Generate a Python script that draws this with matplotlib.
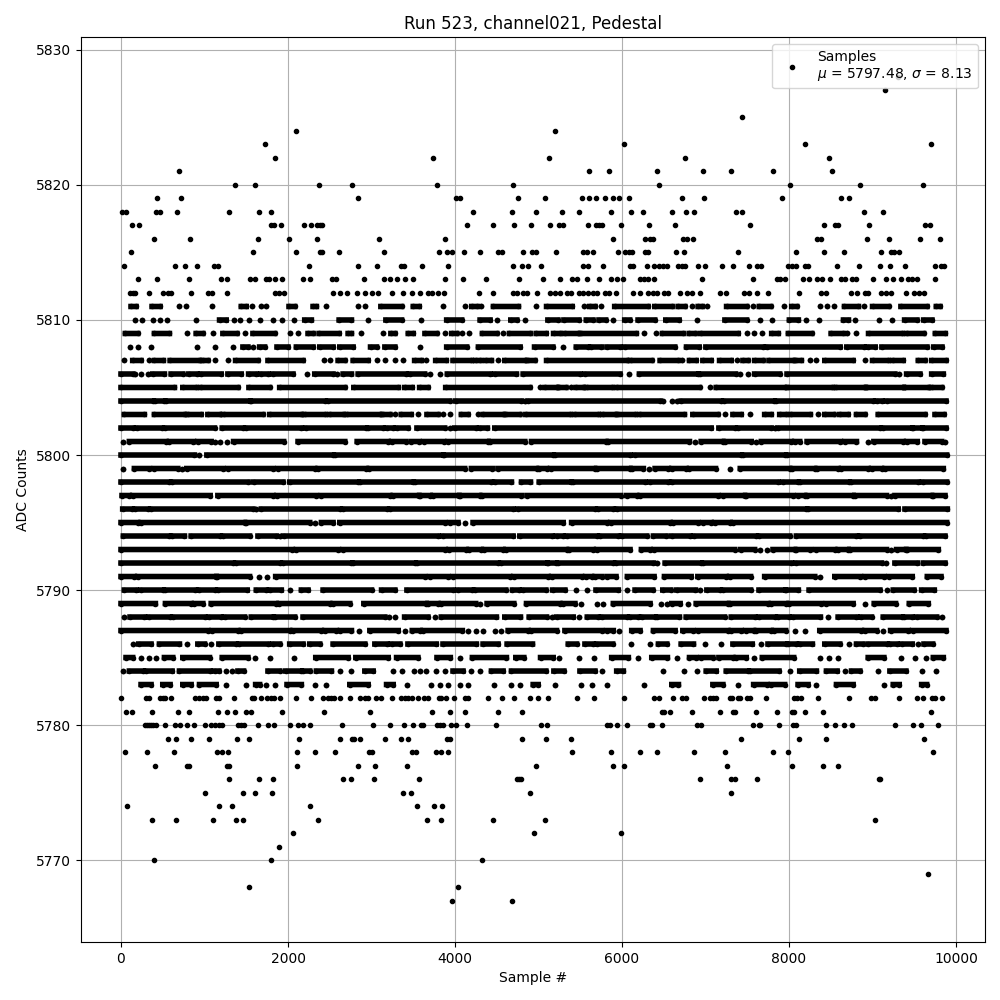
import matplotlib
matplotlib.use("Agg")
import matplotlib.pyplot as plt
import numpy as np

# single samples, x = sample number, one list per ADC level
s5828 = [9300]
s5827 = [9144]
s5825 = [7440]
s5824 = [2096, 5196]
s5823 = [1724, 6024, 8196, 9696]
s5822 = [1844, 3740, 5124, 6756, 8484]
s5821 = [692, 5604, 5844, 6420, 6972, 7308, 7812, 8520]
s5820 = [1364, 1604, 2372, 2768, 3788, 4700, 6444, 8016, 8856, 9600]
s5819 = [428, 716, 2840, 4016, 4064, 4760, 5076, 5520, 5604, 5688, 5796, 5892, 5964, 6084, 6720, 6984, 7920, 8628, 8724]
s5818 = [8, 60, 416, 464, 668, 1292, 1652, 1796, 4220, 4688, 4968, 5280, 5484, 5868, 6108, 6252, 6600, 6768, 6864, 7368,
         7440, 8892, 9120]
s5817 = [128, 212, 1800, 1832, 1916, 2192, 2276, 2348, 2384, 2408, 4148, 4460, 4712, 4912, 5136, 5244, 5292, 5592, 5688,
         5724, 5760, 5988, 6324, 6636, 7536, 8424, 8556, 8592, 8952, 9632, 9684]
s5816 = [392, 824, 1640, 2012, 2348, 3092, 3884, 5892, 6276, 6336, 6372, 6732, 6780, 6852, 8340, 8388, 8928, 9192, 9564,
         9804]
s5815 = [116, 1580, 2096, 2384, 2408, 2612, 3152, 3812, 3908, 3968, 4112, 4304, 4520, 4568, 4820, 4920, 4968, 5208, 5532,
         5580, 5652, 5952, 6036, 6084, 6120, 6276, 6312, 6648, 6744, 7392, 8088, 8424, 8664, 9096, 9216, 9252, 9312]
s5814 = [32, 644, 764, 908, 1112, 1160, 2252, 2840, 3068, 3356, 3392, 3608, 3920, 4700, 4808, 4880, 5032, 5532, 5592, 5772,
         6096, 6132, 6300, 6384, 6444, 6492, 6540, 6672, 6720, 6756, 6912, 6996, 7200, 7332, 7524, 7620, 7668, 7992, 8040,
         8088, 8196, 8232, 8580, 8844, 9084, 9204, 9384, 9744, 9816, 9852]
s5813 = [200, 428, 812, 1196, 1268, 1544, 1604, 1736, 1772, 1844, 1928, 2180, 2264, 2528, 2576, 2912, 3152, 3224, 3308,
         3404, 3500, 3884, 4100, 4376, 4772, 5052, 5256, 5400, 5460, 5580, 5724, 5868, 5940, 6012, 6216, 6264, 6312, 6384,
         6960, 7572, 7860, 7896, 7956, 8172, 8244, 8340, 8400, 8496, 8628, 8676, 8760, 8808, 9000, 9156, 9240, 9336, 9420,
         9468, 9528, 9744]
s5812 = [104, 140, 164, 332, 500, 560, 596, 836, 1040, 1088, 1268, 1844, 1892, 1952, 2540, 2624, 2708, 2828, 2924, 3008,
         3080, 3248, 3380, 3488, 3584, 3680, 3728, 3800, 3872, 4292, 4460, 4700, 4748, 4820, 4868, 4980, 5136, 5196, 5256,
         5340, 5388, 5484, 5532, 5592, 5652, 5700, 5796, 5844, 5928, 6132, 6216, 6312, 6372, 6420, 6504, 6552, 6696, 6780,
         6840, 6936, 7176, 7248, 7464, 7524, 7620, 7752, 8124, 8388, 8448, 8748, 8820, 8904, 8940, 9096, 9156, 9216, 9396,
         9492, 9552, 9612]
s5782 = [0, 300, 340, 468, 500, 532, 596, 884, 932, 980, 1020, 1132, 1172, 1352, 1572, 1588, 1676, 1748, 1796, 1836, 1904,
         2096, 2276, 2420, 2484, 2516, 2556, 2620, 2744, 2864, 2924, 2960, 3052, 3116, 3248, 3356, 3404, 3440, 3488, 3560,
         3632, 3672, 3804, 3836, 3888, 3992, 4116, 4152, 4400, 4568, 4712, 4900, 4992, 5112, 5460, 5664, 6024, 6384, 6444,
         6612, 6720, 6772, 6984, 7056, 7092, 7128, 7296, 7320, 7392, 7416, 7500, 7536, 7728, 8064, 8100, 8148, 8352, 8724,
         8976, 9024, 9312, 9528, 9600, 9708, 9744, 9828]
s5781 = [56, 128, 368, 680, 812, 1160, 1268, 1364, 1496, 1556, 1928, 2432, 2984, 3728, 3944, 4124, 4520, 4808, 6480, 6504,
         6576, 6840, 7176, 7332, 7356, 7608, 7860, 8040, 8064, 8196, 8412, 9696]
s5780 = [284, 308, 332, 356, 380, 416, 524, 644, 704, 788, 872, 1004, 1076, 1124, 1172, 1208, 1400, 1436, 1472, 1640, 1760,
         1832, 2024, 2120, 2180, 2264, 2648, 3020, 3224, 3392, 3500, 3596, 3620, 3788, 3824, 3860, 3956, 4016, 4140, 4496,
         5028, 5100, 5820, 5856, 5940, 6060, 6336, 6360, 6480, 6900, 6948, 7572, 7644, 7656, 7884, 8052, 8088, 8448, 8556,
         8664, 8760, 9264, 9480, 9576, 9780]
s5779 = [560, 656, 836, 1052, 1388, 1532, 2132, 2624, 2768, 2792, 2864, 3164, 3356, 3440, 3908, 3944, 4808, 5088, 5388,
         7428, 8124, 8448, 9612]
s5778 = [44, 308, 632, 1148, 1208, 1280, 2108, 2324, 2564, 2972, 3008, 3488, 3536, 3776, 3836, 3920, 5400, 5868, 6216, 6420,
         6864, 7236, 7812, 7992, 9720]
s5777 = [404, 788, 812, 1268, 1292, 2108, 2840, 3044, 3428, 4968, 5892, 6024, 7260, 8040, 8412, 8592]
s5776 = [1292, 1652, 1820, 2660, 2756, 3032, 3572, 4748, 4772, 4796, 6936, 7308, 7356, 7620, 9072, 9084]
s5775 = [1004, 1460, 1604, 1808, 3380, 3476, 4900, 7308]
s5774 = [68, 1172, 1328, 2264, 3548, 3752, 3848]
s5773 = [368, 656, 1100, 1376, 1460, 2360, 3668, 3836, 4460, 5076, 9024]
s5772 = [2060, 4944, 5988]
s5771 = [1892]
s5770 = [392, 1796, 4328]
s5769 = [9660]
s5768 = [1532, 4040]
s5767 = [3968, 4688]

# the middle levels are too dense to separate samples, so these are runs of
# touching samples (first x, last x)
r5811 = [(120, 180), (372, 468), (700, 700), (780, 780), (1088, 1088), (1440, 1500), (1572, 1572), (1680, 1680), (1740, 1740),
         (2012, 2080), (2300, 2340), (2460, 2460), (2840, 2840), (2924, 2924), (3112, 3360), (3500, 3572), (3860, 3860),
         (4124, 4124), (4200, 4268), (4316, 4316), (4460, 4760), (4968, 4968), (5096, 5404), (5544, 5544), (5612, 5676),
         (5748, 5748), (5912, 6312), (6392, 6600), (6672, 6752), (6840, 6840), (6912, 6960), (7020, 7020), (7252, 7492),
         (7572, 7572), (7644, 7780), (7944, 7944), (8032, 8092), (8376, 8376), (8460, 8460), (8544, 8544), (8664, 8832),
         (8892, 8892), (9000, 9192), (9340, 9652), (9764, 9808)]
r5810 = [(168, 168), (248, 248), (380, 380), (464, 464), (548, 548), (896, 896), (1180, 1260), (1352, 1352), (1424, 1424),
         (1532, 1532), (1664, 1664), (1820, 1820), (1928, 1928), (2072, 2072), (2200, 2280), (2612, 2760), (2960, 2960),
         (3172, 3360), (3596, 3596), (3900, 4080), (4300, 4420), (4508, 4508), (4668, 4740), (4844, 4844), (5112, 5232),
         (5304, 5484), (5572, 5652), (5724, 5804), (5892, 5892), (6032, 6092), (6192, 6392), (6524, 6684), (6900, 6900),
         (7232, 7492), (7652, 7652), (7800, 7800), (8004, 8112), (8204, 8204), (8364, 8364), (8652, 8712), (8796, 8796),
         (9080, 9080), (9228, 9228), (9384, 9532), (9612, 9712)]
r5809 = [(52, 200), (400, 580), (788, 788), (900, 980), (1100, 1100), (1220, 1388), (1480, 1480), (1580, 1840), (2028, 2028),
         (2124, 2124), (2240, 2300), (2372, 2612), (2720, 2760), (2876, 2876), (3140, 3140), (3232, 3280), (3440, 3500),
         (3640, 3780), (3876, 3876), (3960, 4020), (4088, 4088), (4172, 4172), (4328, 4500), (4580, 4580), (4652, 4900),
         (4972, 5092), (5180, 5252), (5312, 5472), (5512, 6172), (6260, 6260), (6412, 6412), (6484, 6732), (6804, 6872),
         (6940, 7392), (7500, 7500), (7580, 7580), (7680, 7680), (7792, 7872), (7992, 8272), (8504, 8652), (8700, 8700),
         (8804, 8804), (8952, 9352), (9412, 9612), (9752, 9872)]
r5808 = [(108, 108), (200, 200), (360, 360), (908, 908), (1124, 1124), (1340, 1340), (1460, 1520), (1580, 1580), (1660, 1720),
         (1868, 2000), (2100, 2300), (2380, 2540), (2620, 2780), (2988, 3060), (3160, 3280), (3584, 3584), (3900, 4140),
         (4280, 4780), (4952, 5172), (5292, 5292), (5452, 5592), (5632, 5752), (5820, 5972), (6032, 6632), (6772, 6924),
         (7004, 7692), (7732, 8612), (8692, 8892), (8940, 9032), (9112, 9652), (9732, 9832)]
r5807 = [(40, 40), (140, 240), (332, 332), (400, 508), (588, 940), (980, 1040), (1120, 1120), (1280, 1280), (1372, 1640),
         (1760, 2180), (2428, 2428), (2500, 2500), (2600, 2680), (2780, 2960), (3060, 3060), (3160, 3160), (3280, 3280),
         (3376, 3376), (3516, 3596), (3656, 3656), (3768, 3896), (3976, 4196), (4248, 4304), (4368, 4436), (4516, 4516),
         (4596, 4836), (4876, 4956), (5096, 6056), (6104, 6356), (6456, 6676), (6720, 6720), (6808, 6888), (6968, 7068),
         (7168, 7308), (7376, 7376), (7448, 7508), (7588, 7688), (7760, 8048), (8088, 8148), (8248, 8248), (8320, 8320),
         (8428, 8768), (8912, 8912), (9000, 9188), (9248, 9368), (9548, 9628), (9708, 9880)]
r5806 = [(0, 140), (172, 172), (240, 240), (328, 328), (380, 520), (600, 740), (812, 908), (960, 1200), (1280, 1440),
         (1528, 1620), (1680, 1760), (1820, 2060), (2228, 2228), (2320, 2540), (2588, 2588), (2660, 2760), (2840, 3416),
         (3456, 3636), (3704, 3704), (3824, 3824), (3908, 4416), (4476, 4736), (4816, 5496), (5556, 5976), (6088, 6088),
         (6208, 6908), (6928, 7360), (7416, 7416), (7508, 7508), (7588, 7888), (7976, 9268), (9320, 9320), (9408, 9568),
         (9708, 9848)]
r5805 = [(0, 640), (740, 900), (960, 1400), (1532, 1780), (1900, 2680), (2788, 3320), (3396, 3488), (3576, 3676), (3888, 4896),
         (5016, 5016), (5076, 5216), (5248, 5328), (5384, 5384), (5448, 5536), (5576, 5876), (5936, 6928), (7056, 7056),
         (7128, 7948), (7988, 8520), (8568, 8908), (8928, 9368), (9388, 9668), (9708, 9828)]
r5804 = [(0, 380), (412, 520), (540, 1540), (1560, 2440), (2480, 3936), (4008, 4796), (4836, 4836), (4876, 6456), (6496, 6496),
         (6596, 6596), (6656, 6656), (6708, 7188), (7220, 7816), (7848, 9008), (9048, 9108), (9168, 9880)]
r5803 = [(40, 280), (400, 760), (800, 960), (1040, 1180), (1228, 1700), (1780, 2160), (2200, 2440), (2500, 2660), (2708, 3100),
         (3140, 3220), (3280, 3280), (3356, 3476), (3556, 3556), (3664, 3796), (3856, 3856), (3936, 3936), (4076, 4156),
         (4276, 4276), (4336, 4576), (4616, 4776), (4848, 5376), (5436, 5716), (5768, 5916), (5956, 6156), (6216, 6748),
         (6848, 7148), (7236, 7236), (7328, 7428), (7528, 7528), (7708, 7788), (7888, 7968), (8028, 8256), (8348, 8348),
         (8428, 8536), (8608, 8708), (8808, 8908), (9068, 9628), (9748, 9856)]
r5802 = [(0, 140), (188, 492), (532, 1120), (1212, 1460), (1500, 2160), (2212, 2932), (2960, 3140), (3180, 3260), (3300, 3436),
         (3544, 3876), (3936, 3936), (3996, 4248), (4296, 4388), (4476, 7068), (7160, 7348), (7388, 7788), (7828, 7828),
         (7868, 9088), (9120, 9468), (9488, 9588), (9608, 9880)]
r5801 = [(20, 20), (100, 540), (580, 868), (920, 1080), (1120, 1120), (1180, 1180), (1268, 1268), (1348, 1948), (2120, 2680),
         (2828, 3200), (3240, 3408), (3476, 3568), (3624, 3864), (3916, 4396), (4416, 4836), (4916, 5808), (5836, 6808),
         (6876, 6876), (6948, 7208), (7228, 7548), (7608, 7608), (7668, 8028), (8068, 8128), (8216, 8616), (8668, 8808),
         (8940, 8940), (9016, 9368), (9408, 9536), (9628, 9828), (9868, 9868)]
r5800 = [(0, 880), (940, 940), (1028, 2540), (2560, 3856), (3868, 5176), (5196, 6096), (6156, 7428), (7448, 7948), (7976, 9888)]
r5799 = [(28, 28), (160, 340), (400, 680), (728, 728), (788, 1220), (1280, 1820), (1880, 2320), (2360, 2940), (2972, 4116),
         (4196, 4448), (4516, 4976), (5008, 5096), (5144, 5672), (5696, 6096), (6116, 6256), (6328, 6328), (6396, 6556),
         (6596, 6768), (6808, 7120), (7288, 7288), (7416, 8008), (8040, 8308), (8336, 8588), (8628, 8948), (8988, 9108),
         (9148, 9848)]
r5798 = [(0, 580), (612, 1520), (1588, 1940), (2020, 2840), (2860, 3496), (3516, 4436), (4476, 4676), (4796, 4904), (5008, 5384),
         (5408, 6276), (6336, 6556), (6596, 7868), (7928, 8108), (8128, 8720), (8748, 9548), (9600, 9888)]
r5797 = [(12, 100), (140, 1068), (1160, 1820), (1868, 2340), (2400, 3220), (3260, 3568), (3576, 3704), (3736, 4048), (4056, 4296),
         (4324, 4796), (4864, 5984), (6056, 6176), (6216, 7148), (7204, 7468), (7480, 8048), (8108, 8188), (8216, 8768),
         (8788, 9168), (9216, 9216), (9268, 9708), (9728, 9868)]
r5796 = [(20, 132), (172, 320), (360, 1580), (1620, 1620), (1680, 2620), (2660, 3180), (3220, 4696), (4756, 5676), (5716, 5896),
         (5936, 8208), (8228, 9308), (9388, 9896)]
r5795 = [(0, 200), (240, 1480), (1500, 2260), (2320, 2320), (2400, 2540), (2620, 3876), (3936, 4036), (4116, 4116), (4216, 5296),
         (5396, 5816), (5864, 6576), (6616, 6908), (6968, 7068), (7108, 7296), (7328, 9888)]
r5794 = [(28, 580), (608, 760), (840, 1180), (1220, 1540), (1640, 1860), (1900, 1900), (1948, 3796), (3856, 4696), (4776, 5156),
         (5216, 5296), (5336, 5696), (5736, 5956), (5996, 6296), (6376, 6528), (6596, 6816), (6868, 7608), (7640, 8008),
         (8088, 8808), (8848, 9608), (9640, 9868)]
r5793 = [(0, 2052), (2100, 2604), (2660, 3884), (3928, 4136), (4168, 4316), (4344, 4576), (4608, 5336), (5368, 5656), (5696, 6096),
         (6232, 6336), (6384, 7348), (7420, 7588), (7648, 7648), (7736, 7736), (7808, 8068), (8088, 8256), (8320, 8548),
         (8588, 8708), (8728, 9168), (9220, 9220), (9288, 9400), (9408, 9788)]
r5792 = [(0, 1340), (1380, 1900), (1940, 2760), (2780, 3516), (3544, 4516), (4556, 5096), (5116, 5208), (5236, 5896), (5928, 6376),
         (6416, 6416), (6516, 6944), (6968, 8028), (8088, 9108), (9160, 9160), (9268, 9536), (9608, 9868)]
r5791 = [(0, 160), (200, 1140), (1148, 1540), (1652, 1652), (1748, 1748), (1852, 3636), (3696, 3916), (3976, 4656), (4704, 5116),
         (5156, 5516), (5564, 5636), (5676, 5756), (5824, 5928), (6064, 6384), (6508, 6828), (6908, 7248), (7288, 7540),
         (7708, 8308), (8368, 8368), (8548, 8856), (8912, 9136), (9196, 9476), (9656, 9820)]
r5790 = [(40, 180), (240, 500), (532, 892), (932, 1120), (1160, 1512), (1620, 1740), (1780, 1920), (2020, 2020), (2160, 2240),
         (2420, 3000), (3120, 3280), (3424, 3976), (4036, 4208), (4236, 4608), (4688, 4768), (4816, 5088), (5168, 5316),
         (5448, 5448), (5584, 5584), (5688, 5956), (6056, 6056), (6156, 6368), (6488, 6584), (6656, 6880), (6936, 6936),
         (7016, 7168), (7208, 7540), (7640, 7948), (7968, 8112), (8240, 9088), (9176, 9176), (9248, 9496), (9588, 9740)]
r5789 = [(0, 412), (532, 840), (880, 980), (1080, 1860), (1892, 2500), (2540, 2740), (2908, 3656), (3676, 3796), (3836, 4248),
         (4296, 4296), (4384, 4704), (4856, 5256), (5296, 5436), (5508, 5508), (5704, 5704), (5776, 5776), (5896, 6336),
         (6464, 6464), (6536, 6536), (6596, 6696), (6788, 6788), (6888, 7268), (7288, 7748), (7788, 7968), (8000, 8388),
         (8448, 8768), (8908, 8908), (9020, 9276), (9440, 9668)]
r5788 = [(40, 40), (108, 280), (332, 588), (620, 1000), (1052, 1200), (1240, 1480), (1560, 1820), (1840, 2080), (2180, 3160),
         (3212, 3212), (3280, 3280), (3396, 3676), (3756, 3756), (3836, 4496), (4596, 4784), (4888, 5096), (5156, 5156),
         (5216, 5416), (5480, 5480), (5584, 5716), (5756, 6056), (6096, 6196), (6236, 6396), (6424, 6688), (6768, 7228),
         (7308, 7588), (7640, 7828), (7868, 8000), (8048, 8376), (8468, 8468), (8588, 8808), (8868, 8988), (9128, 9348),
         (9376, 9468), (9528, 9768), (9828, 9828)]
r5787 = [(0, 1040), (1092, 1400), (1440, 2020), (2060, 2400), (2440, 2580), (2628, 2760), (2848, 2848), (2980, 3320), (3396, 3396),
         (3488, 3584), (3616, 4088), (4156, 4156), (4256, 4256), (4336, 4336), (4476, 4476), (4556, 4556), (4636, 4876),
         (4916, 5216), (5316, 5756), (5816, 5896), (5968, 5968), (6116, 6216), (6376, 6636), (6728, 6848), (6908, 7268),
         (7308, 7428), (7480, 7576), (7608, 7788), (7816, 7960), (8068, 8068), (8188, 8188), (8368, 8868), (8908, 9048),
         (9128, 9128), (9216, 9428), (9480, 9880)]
r5786 = [(140, 140), (212, 360), (460, 700), (788, 788), (920, 1000), (1072, 1072), (1172, 1380), (1412, 1760), (1820, 1900),
         (2020, 2180), (2260, 2380), (2540, 2920), (3040, 3180), (3240, 3340), (3436, 3776), (3856, 4256), (4336, 4516),
         (4624, 4928), (5356, 5456), (5556, 5656), (5704, 5888), (6104, 6104), (6336, 6336), (6436, 6536), (6708, 6856),
         (6996, 6996), (7184, 7184), (7328, 7560), (7668, 7668), (7748, 7968), (7988, 8088), (8128, 8280), (8428, 8608),
         (8720, 8720), (8808, 8880), (8948, 9168), (9208, 9288), (9348, 9476), (9548, 9548), (9616, 9720)]
r5785 = [(60, 140), (240, 240), (332, 332), (420, 420), (520, 620), (740, 1060), (1212, 1520), (1608, 1608), (1788, 1788),
         (2072, 2072), (2332, 2720), (2812, 3200), (3300, 3556), (3784, 3944), (4064, 4064), (4208, 4616), (4728, 4824),
         (5024, 5176), (5248, 5248), (5484, 5484), (5668, 5668), (5876, 6076), (6196, 6196), (6356, 6544), (6656, 6656),
         (6808, 6888), (6948, 7088), (7160, 7328), (7368, 7488), (7576, 7576), (7680, 8056), (8368, 8368), (8480, 8480),
         (8588, 8588), (8948, 9136), (9340, 9340), (9508, 9508), (9640, 9640), (9728, 9848)]
r5784 = [(20, 20), (100, 260), (300, 612), (700, 1060), (1120, 1172), (1260, 1260), (1332, 1332), (1400, 1468), (1760, 1900),
         (1972, 2152), (2180, 2260), (2340, 2520), (2620, 2620), (2760, 2760), (2920, 3020), (3252, 3252), (3368, 3368),
         (3504, 3504), (3576, 3576), (3656, 3656), (3776, 3776), (3876, 3876), (3976, 4096), (4196, 4196), (4296, 4296),
         (4436, 4576), (4676, 5088), (5184, 5304), (5496, 5676), (5764, 5764), (5936, 6016), (6496, 6496), (6748, 6748),
         (6896, 6896), (7008, 7128), (7248, 7508), (7536, 7880), (8008, 8008), (8128, 8328), (8448, 8576), (8676, 8676),
         (8748, 8848), (9068, 9068), (9208, 9400), (9588, 9588), (9756, 9756)]
r5783 = [(240, 360), (500, 588), (740, 840), (940, 1140), (1252, 1252), (1500, 1500), (1612, 1660), (1732, 1732), (1840, 1840),
         (1988, 2160), (2320, 2320), (2452, 2452), (2740, 2960), (3180, 3260), (3424, 3424), (3716, 3716), (3816, 3816),
         (3916, 3916), (4056, 4056), (4156, 4156), (4468, 4468), (4676, 4676), (4784, 4784), (4936, 4996), (5196, 5196),
         (5504, 5504), (5636, 5636), (5816, 5816), (6268, 6268), (6596, 6676), (7088, 7208), (7388, 7388), (7576, 7736),
         (7788, 7948), (8108, 8228), (8320, 8320), (8568, 8768), (9136, 9136), (9248, 9320), (9588, 9648)]

single_rows = {5828: s5828, 5827: s5827, 5825: s5825, 5824: s5824, 5823: s5823, 5822: s5822, 5821: s5821, 5820: s5820,
               5819: s5819, 5818: s5818, 5817: s5817, 5816: s5816, 5815: s5815, 5814: s5814, 5813: s5813, 5812: s5812,
               5782: s5782, 5781: s5781, 5780: s5780, 5779: s5779, 5778: s5778, 5777: s5777, 5776: s5776, 5775: s5775,
               5774: s5774, 5773: s5773, 5772: s5772, 5771: s5771, 5770: s5770, 5769: s5769, 5768: s5768, 5767: s5767}
run_rows = {5811: r5811, 5810: r5810, 5809: r5809, 5808: r5808, 5807: r5807, 5806: r5806, 5805: r5805, 5804: r5804,
            5803: r5803, 5802: r5802, 5801: r5801, 5800: r5800, 5799: r5799, 5798: r5798, 5797: r5797, 5796: r5796,
            5795: r5795, 5794: r5794, 5793: r5793, 5792: r5792, 5791: r5791, 5790: r5790, 5789: r5789, 5788: r5788,
            5787: r5787, 5786: r5786, 5785: r5785, 5784: r5784, 5783: r5783}

plt.figure(figsize=(10, 10), dpi=100)

x = []
y = []
for level, row in single_rows.items():
    x += row
    y += [level] * len(row)
plt.plot(x, y, 'k.', label='Samples\n$\\mu$ = 5797.48, $\\sigma$ = 8.13')

x = []
y = []
for level, row in run_rows.items():
    for start, end in row:
        x += [start, end, np.nan]
        y += [level, level, np.nan]
plt.plot(x, y, 'k.-', lw=4)

plt.xlim(-479, 10347)
plt.ylim(5763.93, 5830.96)
plt.grid(True)
plt.title('Run 523, channel021, Pedestal')
plt.xlabel('Sample #')
plt.ylabel('ADC Counts')
plt.legend(loc='upper right')
plt.subplots_adjust(left=0.081, right=0.985, top=0.963, bottom=0.058)
plt.savefig('out.png')
